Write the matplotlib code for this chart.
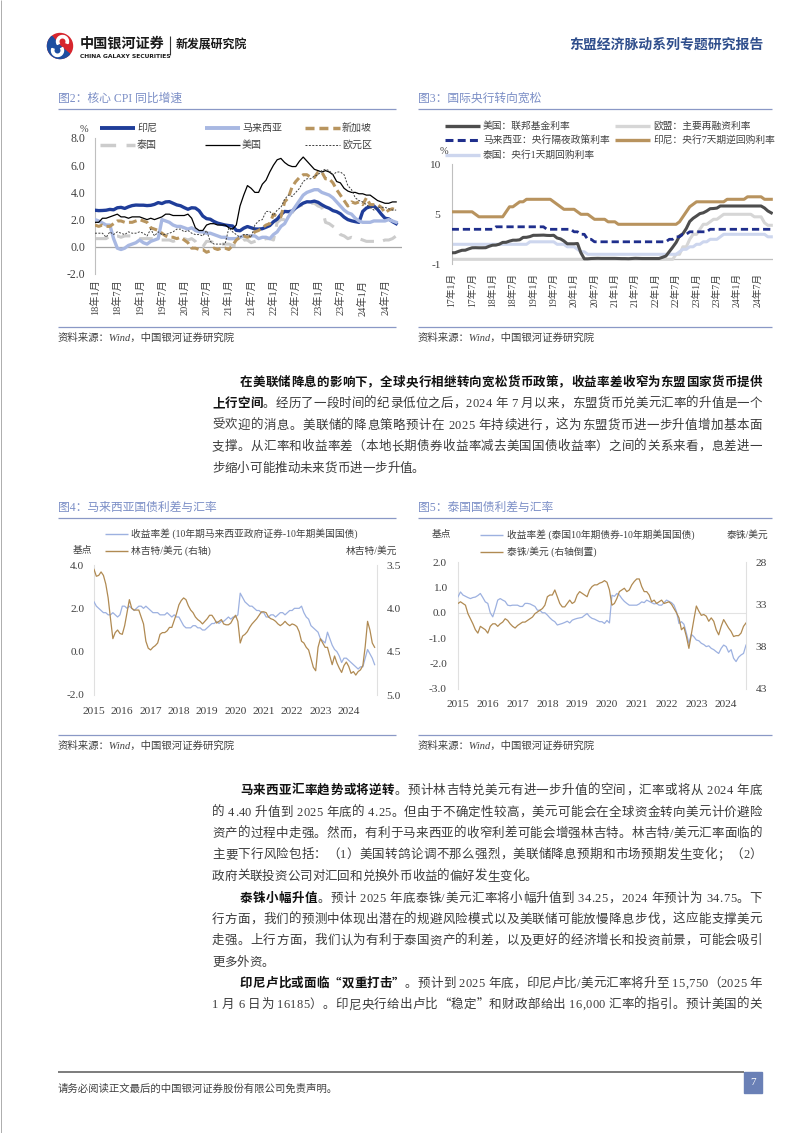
import numpy as np
import matplotlib
matplotlib.use("Agg")
import matplotlib.pyplot as plt
from matplotlib.font_manager import FontProperties
from matplotlib.patches import Rectangle, Wedge

CJK = "Noto Sans CJK SC"
SER = "Liberation Serif"
MIX = [SER, CJK]
plt.rcParams["font.family"] = MIX
plt.rcParams["axes.unicode_minus"] = False

# ============================ DATA ============================
# Fig 2: core CPI yoy (%), monthly 2018-01 .. 2024-10
cpi_ticklabels = ["18年1月", "18年7月", "19年1月", "19年7月", "20年1月", "20年7月", "21年1月",
                  "21年7月", "22年1月", "22年7月", "23年1月", "23年7月", "24年1月", "24年7月"]
cpi_idn = [2.69, 2.66, 2.67, 2.69, 2.75, 2.72, 2.87, 2.90, 2.82, 2.94, 3.03, 3.07,
           3.06, 3.06, 3.03, 3.05, 3.12, 3.25, 3.18, 3.30, 3.32, 3.20, 3.08, 3.02,
           2.88, 2.76, 2.87, 2.85, 2.65, 2.26, 2.07, 2.03, 1.86, 1.74, 1.67, 1.60,
           1.56, 1.53, 1.21, 1.18, 1.37, 1.49, 1.40, 1.31, 1.30, 1.33, 1.44, 1.56,
           1.84, 2.03, 2.37, 2.60, 2.58, 2.63, 2.86, 3.04, 3.21, 3.31, 3.30, 3.36,
           3.27, 3.09, 2.94, 2.83, 2.66, 2.58, 2.43, 2.18, 2.00, 1.91, 1.85, 1.80,
           2.60, 2.85, 2.95, 3.00, 2.75, 2.40, 2.10, 2.05, 1.85, 1.70]
cpi_mys = [2.0, 1.9, 1.75, 1.6, 1.6, 0.6, -0.1, -0.2, -0.1, 0.1, 0.2, 0.3,
           0.5, 0.3, 0.2, 0.4, 0.5, 0.6, 2.0, 1.9, 1.8, 1.6, 1.5, 1.5,
           1.4, 1.3, 1.4, 1.2, 1.1, 1.1, 1.0, 1.0, 0.9, 0.8, 0.7, 0.7,
           0.6, 0.6, 0.6, 0.7, 0.8, 0.8, 0.8, 0.8, 0.6, 0.7, 0.7, 0.6,
           0.9, 1.1, 1.5, 1.7, 2.2, 2.6, 3.0, 3.4, 3.8, 4.0, 4.1, 4.2,
           4.2, 4.0, 3.9, 3.8, 3.6, 3.3, 3.0, 2.7, 2.5, 2.4, 2.1, 1.9,
           1.8, 1.8, 1.8, 1.9, 1.9, 1.9, 1.9, 2.0, 1.9, 1.8]
cpi_sgp = [1.6, 1.5, 1.6, 1.5, 1.5, 1.7, 1.9, 1.9, 1.8, 1.8, 1.8, 1.9,
           2.0, 1.9, 1.8, 1.4, 1.3, 1.2, 1.0, 0.8, 0.7, 0.7, 0.6, 0.7,
           0.5, 0.3, -0.1, -0.1, -0.2, -0.2, -0.4, -0.3, -0.1, -0.2, -0.1, -0.1,
           -0.2, 0.1, 0.5, 0.7, 0.8, 0.7, 0.8, 1.1, 1.2, 1.4, 1.6, 1.7,
           2.4, 2.2, 2.2, 3.3, 3.6, 4.4, 4.8, 5.1, 5.3, 5.3, 5.1, 5.1,
           5.5, 5.5, 5.0, 5.0, 4.7, 4.2, 3.8, 3.4, 3.0, 3.3, 3.2, 3.3,
           3.1, 3.6, 3.1, 3.1, 3.1, 2.9, 2.5, 2.7, 2.8, 2.7]
cpi_tha = [0.6, 0.6, 0.6, 0.6, 0.8, 0.8, 0.8, 0.7, 0.8, 0.8, 0.8, 0.7,
           0.6, 0.6, 0.6, 0.6, 0.6, 0.5, 0.5, 0.5, 0.5, 0.4, 0.5, 0.5,
           0.6, 0.5, 0.6, 0.4, 0.0, 0.0, 0.4, 0.4, 0.3, 0.2, 0.2, 0.2,
           0.2, 0.1, 0.1, 0.3, 0.5, 0.5, 0.3, 0.4, 0.5, 0.5, 0.6, 0.6,
           0.5, 1.8, 2.0, 2.0, 2.3, 2.5, 2.9, 3.0, 3.1, 3.2, 3.2, 3.2,
           3.0, 2.9, 1.8, 1.7, 1.5, 1.3, 0.9, 0.8, 0.6, 0.7, 0.6, 0.6,
           0.5, 0.4, 0.4, 0.4, 0.4, 0.4, 0.5, 0.5, 0.6, 0.8]
cpi_usa = [1.8, 1.8, 2.1, 2.1, 2.2, 2.3, 2.4, 2.2, 2.2, 2.1, 2.2, 2.2,
           2.2, 2.1, 2.0, 2.1, 2.0, 2.1, 2.2, 2.4, 2.4, 2.3, 2.3, 2.3,
           2.3, 2.4, 2.1, 1.4, 1.2, 1.2, 1.6, 1.7, 1.7, 1.6, 1.6, 1.6,
           1.4, 1.3, 1.6, 3.0, 3.8, 4.5, 4.3, 4.0, 4.0, 4.6, 4.9, 5.5,
           6.0, 6.4, 6.5, 6.2, 6.0, 5.9, 5.9, 6.3, 6.6, 6.3, 6.0, 5.7,
           5.6, 5.5, 5.6, 5.5, 5.3, 4.8, 4.7, 4.3, 4.1, 4.0, 4.0, 3.9,
           3.9, 3.8, 3.8, 3.6, 3.4, 3.3, 3.2, 3.2, 3.3, 3.3]
cpi_eur = [1.0, 1.0, 1.0, 0.7, 1.1, 0.9, 1.1, 1.0, 0.9, 1.1, 1.0, 1.0,
           1.1, 1.0, 0.8, 1.3, 0.8, 1.1, 0.9, 0.9, 1.0, 1.1, 1.3, 1.3,
           1.1, 1.2, 1.0, 0.9, 0.9, 0.8, 1.2, 0.4, 0.2, 0.2, 0.2, 0.2,
           1.4, 1.1, 0.9, 0.7, 0.9, 0.9, 0.7, 1.6, 1.9, 2.0, 2.6, 2.6,
           2.3, 2.7, 2.9, 3.5, 3.8, 3.7, 4.0, 4.3, 4.8, 5.0, 5.0, 5.2,
           5.3, 5.6, 5.7, 5.6, 5.3, 5.5, 5.5, 5.3, 4.5, 4.2, 3.6, 3.4,
           3.3, 3.1, 2.9, 2.7, 2.9, 2.9, 2.9, 2.8, 2.7, 2.7]

# Fig 3: policy rates (%), monthly 2017-01 .. 2024-11
rate_ticklabels = ["17年1月", "17年7月", "18年1月", "18年7月", "19年1月", "19年7月", "20年1月", "20年7月",
                   "21年1月", "21年7月", "22年1月", "22年7月", "23年1月", "23年7月", "24年1月", "24年7月"]
rate_usa = [0.65, 0.66, 0.79, 0.90, 0.91, 1.04, 1.15, 1.16, 1.15, 1.15, 1.16, 1.30,
            1.41, 1.42, 1.51, 1.69, 1.70, 1.82, 1.91, 1.91, 1.95, 2.19, 2.20, 2.27,
            2.40, 2.40, 2.41, 2.42, 2.39, 2.38, 2.40, 2.13, 2.04, 1.83, 1.55, 1.55,
            1.55, 1.58, 0.65, 0.05, 0.05, 0.08, 0.09, 0.10, 0.09, 0.09, 0.09, 0.09,
            0.09, 0.08, 0.07, 0.07, 0.06, 0.08, 0.10, 0.09, 0.08, 0.08, 0.08, 0.08,
            0.08, 0.08, 0.20, 0.33, 0.77, 1.21, 1.68, 2.33, 2.56, 3.08, 3.78, 4.10,
            4.33, 4.57, 4.65, 4.83, 5.06, 5.08, 5.12, 5.33, 5.33, 5.33, 5.33, 5.33,
            5.33, 5.33, 5.33, 5.33, 5.33, 5.33, 5.33, 5.33, 5.13, 4.83, 4.64]
rate_eu = [0.0] * 66 + [0.5, 0.5, 1.25, 1.25, 2.0, 2.5,
                        2.5, 3.0, 3.5, 3.5, 3.75, 4.0, 4.0, 4.25, 4.5, 4.5, 4.5, 4.5,
                        4.5, 4.5, 4.5, 4.5, 4.5, 4.25, 4.25, 4.25, 3.65, 3.4, 3.4]
rate_mys = ([3.0] * 13 + [3.25] * 15 + [3.0] * 8 +
            [2.75, 2.75, 2.5, 2.5, 2.0, 2.0] + [1.75] * 22 +
            [2.0, 2.0, 2.25, 2.25, 2.5, 2.5, 2.75, 2.75, 2.75, 2.75, 2.75, 2.75] + [3.0] * 19)
rate_idn = ([4.75] * 7 + [4.5] + [4.25] * 8 + [4.75, 5.25, 5.25, 5.5, 5.75, 5.75, 6.0, 6.0] +
            [6.0] * 6 + [5.75, 5.5, 5.25, 5.0, 5.0, 5.0] +
            [5.0, 4.75, 4.5, 4.5, 4.5, 4.25, 4.0, 4.0, 4.0, 4.0, 3.75, 3.75] +
            [3.75] + [3.5] * 11 + [3.5] * 7 + [3.75, 4.25, 4.75, 5.25, 5.5] +
            [5.75] * 9 + [6.0] * 6 + [6.25] * 5 + [6.0] * 3)
rate_tha = ([1.5] * 23 + [1.75] * 8 + [1.5] * 3 + [1.25] * 3 + [1.0, 0.75, 0.75] + [0.5] * 27 +
            [0.75, 1.0, 1.0, 1.25, 1.25, 1.5, 1.5, 1.75, 1.75, 2.0, 2.0, 2.0, 2.25] + [2.5] * 13 +
            [2.25, 2.25])

# Fig 4: Malaysia 10y spread (pp) & MYR/USD, monthly 2015-01 .. 2024-12
year_labels = ["2015", "2016", "2017", "2018", "2019", "2020", "2021", "2022", "2023", "2024"]
spread_my = [2.3, 2.1, 2.0, 1.9, 1.8, 1.8, 1.7, 1.7, 1.8, 1.7, 1.6, 1.7,
             2.1, 2.1, 2.0, 2.1, 2.0, 1.9, 2.0, 2.1, 2.1, 2.0, 2.1, 2.0,
             1.9, 1.8, 1.8, 1.8, 1.7, 1.7, 1.7, 1.8, 1.7, 1.6, 1.7, 1.6,
             1.6, 1.4, 1.2, 1.1, 1.1, 1.1, 1.2, 1.2, 1.1, 1.1, 1.0, 1.0,
             1.1, 1.2, 1.3, 1.3, 1.4, 1.3, 1.4, 1.4, 1.5, 1.6, 1.5, 1.6,
             1.6, 1.7, 2.7, 2.5, 2.3, 2.2, 2.1, 2.1, 2.0, 1.9, 1.9, 1.8,
             1.8, 1.6, 1.6, 1.7, 1.7, 1.6, 1.7, 1.8, 1.8, 1.7, 1.8, 1.9,
             1.9, 2.0, 2.0, 2.0, 2.1, 1.8, 1.6, 1.5, 1.2, 1.1, 1.0, 0.9,
             0.6, 0.5, 0.4, 0.9, 0.6, 0.3, 0.1, 0.0, -0.2, -0.5, -0.3, -0.3,
             -0.4, -0.5, -0.6, -0.7, -0.8, -0.7, -0.7, -0.3, 0.1, -0.1, -0.3, -0.6]
myr_usd = [3.55, 3.63, 3.62, 3.58, 3.62, 3.72, 3.88, 4.12, 4.35, 4.28, 4.25, 4.29,
           4.30, 4.20, 4.05, 3.90, 4.00, 4.02, 4.02, 4.02, 4.10, 4.18, 4.38, 4.46,
           4.48, 4.45, 4.43, 4.40, 4.30, 4.28, 4.28, 4.26, 4.22, 4.22, 4.14, 4.06,
           3.96, 3.91, 3.88, 3.90, 3.97, 4.02, 4.05, 4.10, 4.13, 4.15, 4.18, 4.15,
           4.12, 4.08, 4.08, 4.12, 4.17, 4.15, 4.13, 4.18, 4.19, 4.19, 4.17, 4.12,
           4.08, 4.15, 4.40, 4.32, 4.30, 4.27, 4.22, 4.18, 4.15, 4.12, 4.08, 4.04,
           4.04, 4.05, 4.10, 4.12, 4.13, 4.15, 4.18, 4.20, 4.18, 4.15, 4.18, 4.20,
           4.18, 4.19, 4.21, 4.27, 4.38, 4.40, 4.45, 4.48, 4.58, 4.68, 4.72, 4.45,
           4.35, 4.40, 4.45, 4.45, 4.55, 4.65, 4.55, 4.63, 4.69, 4.74, 4.66, 4.62,
           4.67, 4.75, 4.73, 4.77, 4.73, 4.71, 4.66, 4.44, 4.15, 4.25, 4.40, 4.45]

# Fig 5: Thailand 10y spread (pp) & THB/USD, monthly 2015-01 .. 2024-09
spread_th = [0.63, 0.82, 0.70, 0.65, 0.60, 0.56, 0.60, 0.62, 0.68, 0.76, 0.60, 0.43,
             0.37, 0.00, -0.16, 0.15, 0.50, 0.56, 0.50, 0.45, 0.30, 0.28, 0.30, 0.30,
             0.30, 0.25, 0.25, 0.37, 0.37, 0.35, 0.30, 0.25, 0.10, 0.10, 0.00, 0.00,
             -0.09, -0.20, -0.29, -0.35, -0.48, -0.45, -0.42, -0.38, -0.33, -0.40, -0.29, -0.25,
             -0.22, -0.20, -0.18, -0.10, -0.03, -0.15, -0.22, -0.25, -0.30, -0.35, -0.35, -0.42,
             -0.30, -0.40, 0.69, 0.65, 0.76, 0.70, 0.56, 0.45, 0.37, 0.30, 0.30, 0.30,
             0.30, 0.35, 0.43, 0.40, 0.50, 0.45, 0.40, 0.35, 0.37, 0.30, 0.30, 0.40,
             0.50, 0.45, 0.40, 0.30, 0.05, -0.42, -0.35, -0.45, -0.81, -1.20, -0.85, -0.94,
             -1.07, -1.10, -1.20, -1.25, -1.33, -1.30, -1.40, -1.45, -1.53, -1.60, -1.40, -1.27,
             -1.33, -1.55, -1.45, -1.79, -1.92, -1.75, -1.66, -1.60, -1.27]
thb_usd = [32.9, 32.7, 32.9, 33.1, 34.1, 34.7, 35.3, 36.0, 36.4, 35.6, 35.8, 36.0,
           36.4, 35.6, 35.3, 35.3, 35.6, 35.3, 35.1, 34.7, 34.9, 35.3, 35.6, 35.8,
           35.5, 35.3, 35.1, 35.1, 34.9, 34.7, 34.5, 34.1, 33.9, 33.7, 33.5, 33.1,
           32.1, 31.9, 31.9, 31.3, 32.1, 32.9, 33.3, 33.3, 32.9, 32.5, 32.9, 32.7,
           31.9, 31.5, 31.7, 31.9, 32.1, 31.3, 30.9, 30.7, 30.7, 30.5, 30.4, 30.2,
           30.4, 31.3, 33.1, 32.9, 32.3, 31.5, 31.3, 31.1, 31.5, 31.3, 30.7, 30.3,
           30.0, 30.0, 30.9, 31.5, 31.5, 31.9, 32.7, 32.5, 32.9, 32.7, 32.5, 32.9,
           32.8, 32.7, 33.0, 33.5, 34.0, 34.6, 36.0, 35.7, 36.8, 38.2, 36.5, 34.8,
           33.2, 33.8, 34.3, 34.2, 34.4, 35.0, 34.6, 35.0, 36.0, 36.6, 35.6, 34.8,
           35.3, 35.8, 36.2, 36.8, 36.7, 36.7, 36.4, 35.6, 35.2]

# ============================ FIGURE ============================
W, H = 802, 1133
fig = plt.figure(figsize=(W / 100, H / 100), dpi=100)
fig.patch.set_facecolor("white")
bg = fig.add_axes([0, 0, 1, 1])
bg.set_xlim(0, W)
bg.set_ylim(H, 0)
bg.axis("off")


def add_ax(l, t, r, b):
    return fig.add_axes([l / W, 1 - b / H, (r - l) / W, (b - t) / H])


def T(x, y, s, size=7.0, color="#333333", ha="left", va="center", family=MIX, **kw):
    return bg.text(x, y, s, fontsize=size, color=color, ha=ha, va=va, family=family, **kw)


def L(x0, x1, y0, y1, color, lw, **kw):
    bg.plot([x0, x1], [y0, y1], color=color, lw=lw, solid_capstyle="butt", **kw)


def clean(ax):
    for s in ax.spines.values():
        s.set_visible(False)
    ax.patch.set_visible(False)
    ax.tick_params(length=0)


TITLE_C = "#7b8ec6"
RULE_C = "#8a98c6"
TXT_C = "#404040"

# page border
L(0.5, 0.5, 0, H, "#a0a0a0", 0.6)
L(801.5, 801.5, 0, H, "#a0a0a0", 0.6)

# ---------------- header ----------------
bg.add_patch(Wedge((60, 46), 12.5, 0, 360, color="#d7262e"))
bg.add_patch(Wedge((60, 46), 12.5, 40, 230, color="#1d4ea1"))
bg.add_patch(Wedge((62.5, 41.5), 6.0, 150, 380, width=2.3, color="white"))
bg.add_patch(Wedge((57.5, 50.5), 6.0, -30, 200, width=2.3, color="white"))
T(80, 43.5, "中国银河证券", size=10.2, color="#1a1a1a", family=CJK, weight="bold")
T(80, 56, "CHINA GALAXY SECURITIES", size=4.3, color="#1a1a1a", family="DejaVu Sans", weight="bold")
L(170, 170, 36, 55, "#333333", 0.8)
T(176, 45, "新发展研究院", size=8.6, color="#1a1a1a", family=CJK, weight="bold")
T(763, 45, "东盟经济脉动系列专题研究报告", size=10, color="#2f4e8c", family=CJK, ha="right", weight="bold")

# ---------------- chart titles / rules / sources ----------------
for (x0, x1, ty, title) in [(58, 396, 99, "图2：核心 CPI 同比增速"),
                            (418, 772, 99, "图3：国际央行转向宽松"),
                            (58, 396, 508, "图4：马来西亚国债利差与汇率"),
                            (418, 772, 508, "图5：泰国国债利差与汇率")]:
    T(x0, ty, title, size=8.5, color=TITLE_C)
    L(x0, x1, ty + 10, ty + 10, RULE_C, 0.9)
for (x0, x1, sy) in [(58, 396, 338), (418, 772, 338), (58, 396, 746), (418, 772, 746)]:
    L(x0, x1, sy - 11, sy - 11, RULE_C, 0.9)
    T(x0, sy, "资料来源：Wind，中国银河证券研究院", size=7.5, color=TXT_C, style="italic")

# ---------------- Fig 2 ----------------
ax2 = add_ax(95, 138, 402, 274)
clean(ax2)
x2 = np.arange(len(cpi_idn))
ax2.set_xlim(0, (402 - 95) / 3.718)
ax2.set_ylim(-2, 8)
ax2.spines["left"].set_visible(True)
ax2.spines["left"].set_color("#bfbfbf")
ax2.spines["left"].set_linewidth(0.8)
ax2.axhline(0, color="#a6a6a6", lw=0.9, zorder=1)
ax2.plot(x2, cpi_idn, color="#1f3d99", lw=2.4, zorder=3)
ax2.plot(x2, cpi_mys, color="#a8b8e2", lw=2.4, zorder=3)
ax2.plot(x2, cpi_sgp, color="#b8955f", lw=2.2, dashes=(2.6, 1.4), zorder=3)
ax2.plot(x2, cpi_tha, color="#cccccc", lw=2.2, dashes=(4.5, 3), zorder=2)
ax2.plot(x2, cpi_usa, color="black", lw=0.9, zorder=4)
ax2.plot(x2, cpi_eur, color="#404040", lw=0.7, dashes=(2, 1.5), zorder=4)
ax2.set_yticks([-2, 0, 2, 4, 6, 8])
ax2.set_yticklabels([f"{v:.1f}" for v in [-2, 0, 2, 4, 6, 8]], family=SER, fontsize=8.5, color=TXT_C)
ax2.tick_params(axis="y", pad=7)
ax2.set_xticks(np.arange(0, 79, 6))
ax2.set_xticklabels(cpi_ticklabels, rotation=90, family=MIX, fontsize=7.4, color=TXT_C)
ax2.tick_params(axis="x", pad=4)

T(80, 129, "%", size=7.5, color=TXT_C, family=SER)
leg2 = [(100, 128, "#1f3d99", 2.8, None, "印尼"), (205, 128, "#a8b8e2", 2.8, None, "马来西亚"),
        (305, 128, "#b8955f", 2.5, (2.6, 1.4), "新加坡"), (100, 145, "#cccccc", 2.5, (4.5, 3), "泰国"),
        (205, 145, "black", 0.9, None, "美国"), (305, 145, "#404040", 0.7, (2, 1.5), "欧元区")]
for (lx, ly, c, lw, d, lab) in leg2:
    if d:
        bg.plot([lx, lx + 35], [ly, ly], color=c, lw=lw, dashes=d)
    else:
        L(lx, lx + 35, ly, ly, c, lw)
    T(lx + 37, ly, lab, size=7.2, color=TXT_C)

# ---------------- Fig 3 ----------------
ax3 = add_ax(451.7, 164.3, 773, 264.3)
clean(ax3)
x3 = np.arange(len(rate_usa))
ax3.set_xlim(0, (773 - 451.7) / 3.4)
ax3.set_ylim(-0.5, 9.5)
ax3.spines["left"].set_visible(True)
ax3.spines["left"].set_color("#bfbfbf")
ax3.spines["left"].set_linewidth(0.8)
ax3.axhline(0, color="#bfbfbf", lw=0.9, zorder=1)
ax3.plot(x3, rate_eu, color="#d6d6d6", lw=2.2, zorder=2)
ax3.plot(x3, rate_tha, color="#cdd6ee", lw=2.2, zorder=2)
ax3.plot(x3, rate_usa, color="#4d4d4d", lw=2.2, zorder=3)
ax3.plot(x3, rate_idn, color="#b8935e", lw=2.2, zorder=3)
ax3.plot(x3, rate_mys, color="#1f2e8c", lw=2.0, dashes=(2.6, 1.4), zorder=4)
ax3.set_yticks([-0.5, 4.5, 9.5])
ax3.set_yticklabels(["-1", "5", "10"], family=SER, fontsize=8.2, color=TXT_C)
ax3.tick_params(axis="y", pad=8)
ax3.set_xticks(np.arange(0, 91, 6))
ax3.set_xticklabels(rate_ticklabels, rotation=90, family=MIX, fontsize=7, color=TXT_C)
ax3.tick_params(axis="x", pad=6)

T(440, 152, "%", size=7.5, color=TXT_C, family=SER)
leg3 = [(445, 126, "#4d4d4d", 2.4, None, "美国：联邦基金利率"),
        (615, 126, "#d6d6d6", 2.4, None, "欧盟：主要再融资利率"),
        (445, 140, "#1f2e8c", 2.2, (2.6, 1.4), "马来西亚：央行隔夜政策利率"),
        (615, 140, "#b8935e", 2.4, None, "印尼：央行7天期逆回购利率"),
        (445, 155, "#cdd6ee", 2.4, None, "泰国：央行1天期回购利率")]
for (lx, ly, c, lw, d, lab) in leg3:
    if d:
        bg.plot([lx, lx + 35], [ly, ly], color=c, lw=lw, dashes=d)
    else:
        L(lx, lx + 35, ly, ly, c, lw)
    T(lx + 38, ly, lab, size=7, color=TXT_C)

# ---------------- Fig 4 ----------------
BLUE_L = "#9db1e0"
TAN = "#b08a52"
ax4 = add_ax(94, 565, 377, 695)
clean(ax4)
x4 = np.arange(len(spread_my))
ax4.set_xlim(0, 120)
ax4.set_ylim(-2, 4)
for s in ("left", "right"):
    ax4.spines[s].set_visible(True)
    ax4.spines[s].set_color("#e0e0e0")
    ax4.spines[s].set_linewidth(0.8)
ax4.plot(x4, spread_my, color=BLUE_L, lw=0.9, zorder=3)
ax4.set_yticks([-2, 0, 2, 4])
ax4.set_yticklabels([f"{v:.1f}" for v in [-2, 0, 2, 4]], family=SER, fontsize=8.2, color=TXT_C)
ax4.tick_params(axis="y", pad=7)
ax4.set_xticks(np.arange(0, 109, 12))
ax4.set_xticklabels(year_labels, family=SER, fontsize=8.2, color=TXT_C)
ax4.tick_params(axis="x", pad=9)
ax4r = ax4.twinx()
clean(ax4r)
ax4r.set_ylim(5.0, 3.5)
ax4r.plot(x4, myr_usd, color=TAN, lw=0.9, zorder=2)
ax4r.set_yticks([3.5, 4.0, 4.5, 5.0])
ax4r.set_yticklabels(["3.5", "4.0", "4.5", "5.0"], family=SER, fontsize=8.2, color=TXT_C)
ax4r.tick_params(axis="y", pad=7)

L(105, 128, 534, 534, BLUE_L, 1.0)
T(131, 534, "收益率差 (10年期马来西亚政府证券-10年期美国国债)", size=7, color=TXT_C)
L(105, 128, 551, 551, TAN, 1.0)
T(131, 551, "林吉特/美元 (右轴)", size=7, color=TXT_C)
T(73, 551, "基点", size=7, color=TXT_C)
T(397, 551, "林吉特/美元", size=7, color=TXT_C, ha="right")

# ---------------- Fig 5 ----------------
ax5 = add_ax(458, 562, 746, 689)
clean(ax5)
x5 = np.arange(len(spread_th))
ax5.set_xlim(0, 116)
ax5.set_ylim(-3, 2)
for s in ("left", "right"):
    ax5.spines[s].set_visible(True)
    ax5.spines[s].set_color("#e0e0e0")
    ax5.spines[s].set_linewidth(0.8)
ax5.axhline(0, color="#e3e3e3", lw=0.8, zorder=1)
ax5.plot(x5, spread_th, color=BLUE_L, lw=0.9, zorder=3)
ax5.set_yticks([-3, -2, -1, 0, 1, 2])
ax5.set_yticklabels([f"{v:.1f}" for v in [-3, -2, -1, 0, 1, 2]], family=SER, fontsize=8.2, color=TXT_C)
ax5.tick_params(axis="y", pad=8)
ax5.set_xticks(np.arange(0, 109, 12))
ax5.set_xticklabels(year_labels, family=SER, fontsize=8.2, color=TXT_C)
ax5.tick_params(axis="x", pad=8)
ax5r = ax5.twinx()
clean(ax5r)
ax5r.set_ylim(43, 28)
ax5r.plot(x5, thb_usd, color=TAN, lw=0.9, zorder=2)
ax5r.set_yticks([28, 33, 38, 43])
ax5r.set_yticklabels(["28", "33", "38", "43"], family=SER, fontsize=8.2, color=TXT_C)
ax5r.tick_params(axis="y", pad=7)

L(480, 503, 535, 535, BLUE_L, 1.0)
T(507, 535, "收益率差 (泰国10年期债券-10年期美国国债)", size=7, color=TXT_C)
L(480, 503, 552, 552, TAN, 1.0)
T(507, 552, "泰铢/美元 (右轴倒置)", size=7, color=TXT_C)
T(432, 535, "基点", size=7, color=TXT_C)
T(768, 535, "泰铢/美元", size=7, color=TXT_C, ha="right")

# ---------------- body text (justified, char by char) ----------------
BODY_PT = 9.0
renderer = fig.canvas.get_renderer()
_cache = {}


def fp_for(ch, bold):
    fam = SER if ord(ch) < 0x2000 else CJK
    return FontProperties(family=fam, size=BODY_PT, weight="bold" if bold else "normal")


def adv(ch, bold):
    key = (ch, bold)
    if key not in _cache:
        fp = fp_for(ch, bold)
        ref = "H" if ord(ch) < 0x2000 else "中"
        w3 = renderer.get_text_width_height_descent(ref + ch + ref, fp, ismath=False)[0]
        w2 = renderer.get_text_width_height_descent(ref + ref, fp, ismath=False)[0]
        _cache[key] = w3 - w2
    return _cache[key]


def draw_line(runs, x0, x1, y, justify=True):
    chars = [(ch, b) for t, b in runs for ch in t]
    advs = [adv(ch, b) for ch, b in chars]
    total = sum(advs)
    gap = (x1 - x0 - total) / (len(chars) - 1) if (justify and len(chars) > 1) else 0.0
    x = x0
    for (ch, b), a in zip(chars, advs):
        if ch != " ":
            bg.text(x, y + 4.6, ch, fontproperties=fp_for(ch, b),
                    color="#111111" if b else "#3c3c3c", ha="left", va="baseline")
        x += a + gap


LEFT, IND, RIGHT = 212, 240, 762
N, B = False, True
paragraphs = [
    [([("在美联储降息的影响下，全球央行相继转向宽松货币政策，收益率差收窄为东盟国家货币提供", B)], 381, True, True),
     ([("上行空间", B), ("。经历了一段时间的纪录低位之后，2024 年 7 月以来，东盟货币兑美元汇率的升值是一个", N)], 402.5, False, True),
     ([("受欢迎的消息。美联储的降息策略预计在 2025 年持续进行，这为东盟货币进一步升值增加基本面", N)], 424, False, True),
     ([("支撑。从汇率和收益率差（本地长期债券收益率减去美国国债收益率）之间的关系来看，息差进一", N)], 445.5, False, True),
     ([("步缩小可能推动未来货币进一步升值。", N)], 467, False, False)],
    [([("马来西亚汇率趋势或将逆转", B), ("。预计林吉特兑美元有进一步升值的空间，汇率或将从 2024 年底", N)], 789, True, True),
     ([("的 4.40 升值到 2025 年底的 4.25。但由于不确定性较高，美元可能会在全球资金转向美元计价避险", N)], 811, False, True),
     ([("资产的过程中走强。然而，有利于马来西亚的收窄利差可能会增强林吉特。林吉特/美元汇率面临的", N)], 832, False, True),
     ([("主要下行风险包括：（1）美国转鸽论调不那么强烈，美联储降息预期和市场预期发生变化；（2）", N)], 853.5, False, True),
     ([("政府关联投资公司对汇回和兑换外币收益的偏好发生变化。", N)], 875, False, False)],
    [([("泰铢小幅升值", B), ("。预计 2025 年底泰铢/美元汇率将小幅升值到 34.25，2024 年预计为 34.75。下", N)], 897, True, True),
     ([("行方面，我们的预测中体现出潜在的规避风险模式以及美联储可能放慢降息步伐，这应能支撑美元", N)], 918, False, True),
     ([("走强。上行方面，我们认为有利于泰国资产的利差，以及更好的经济增长和投资前景，可能会吸引", N)], 939.5, False, True),
     ([("更多外资。", N)], 961, False, False)],
    [([("印尼卢比或面临“双重打击”", B), ("。预计到 2025 年底，印尼卢比/美元汇率将升至 15,750（2025 年", N)], 982, True, True),
     ([("1 月 6 日为 16185）。印尼央行给出卢比“稳定”和财政部给出 16,000 汇率的指引。预计美国的关", N)], 1003.5, False, True)],
]
for para in paragraphs:
    for runs, y, indent, just in para:
        draw_line(runs, IND if indent else LEFT, RIGHT, y, justify=just)

# ---------------- footer ----------------
L(58, 744, 1072, 1072, "#595959", 1.1)
T(58, 1089, "请务必阅读正文最后的中国银河证券股份有限公司免责声明。", size=7.5, color=TXT_C, family=CJK)
bg.add_patch(Rectangle((744, 1071.5), 18, 21.5, color="#6a80b6"))
T(753, 1082.5, "7", size=8, color="white", ha="center", family=SER)

fig.savefig("out.png", dpi=100, facecolor="white")
